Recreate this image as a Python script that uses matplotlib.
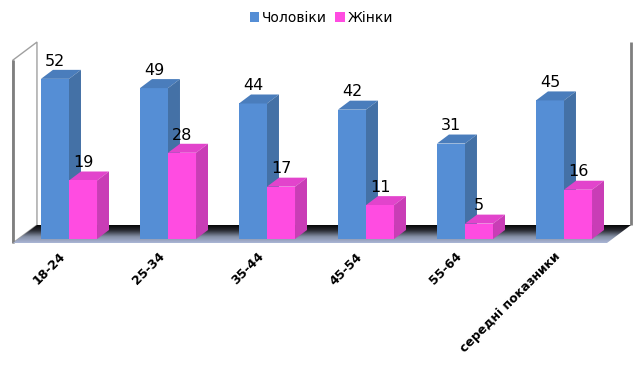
import matplotlib
matplotlib.use("Agg")
import matplotlib.pyplot as plt
from matplotlib.patches import Polygon
from matplotlib.colors import LinearSegmentedColormap
import numpy as np

categories = ["18-24", "25-34", "35-44", "45-54", "55-64", "середні показники"]
men = [52, 49, 44, 42, 31, 45]
women = [19, 28, 17, 11, 5, 16]
series_names = ["Чоловіки", "Жінки"]

BLUE = ("#558ed5", "#4a7dbc", "#4471a6")   # front, top, side
PINK = ("#ff4ce1", "#e244cc", "#c93db6")

BAR_W = 0.283
DX, DY = 0.121, 2.92          # bar depth offset (x units, value units)
FDX, FDY = 0.2424, 5.85       # floor / wall depth

fig = plt.figure(figsize=(6.43, 3.69), dpi=100)
ax = fig.add_axes([0, 0, 1, 1])
ax.set_xlim(-0.697, 5.798)
ax.set_ylim(-42.2, 77.6)
ax.axis("off")

n = len(categories)
x = np.arange(n)
x0, x1 = -0.566, n - 0.566   # floor front edge
fz = -1.3                    # floor front height
wall_top = 58.1

# left side wall
wall = Polygon([(x0, fz), (x0 + FDX, fz + FDY), (x0 + FDX, wall_top + FDY), (x0, wall_top)],
               closed=True, facecolor="white", edgecolor="#a0a0a0", lw=1.0, zorder=0.5)
ax.add_patch(wall)
ax.plot([x0, x0], [fz, wall_top], color="#7f7f7f", lw=2, zorder=0.6, solid_capstyle="butt")
# right edge of back wall
ax.plot([x1 + FDX, x1 + FDX], [fz + FDY, wall_top + FDY], color="#7f7f7f", lw=2, zorder=0.6,
        solid_capstyle="butt")

# floor with gradient
floor = Polygon([(x0, fz), (x1, fz), (x1 + FDX, fz + FDY), (x0 + FDX, fz + FDY)],
                closed=True, facecolor="none", edgecolor="none")
ax.add_patch(floor)
cmap = LinearSegmentedColormap.from_list("floor", ["#aab6d6", "#8590a6", "#2a2c33", "#000000"])
grad = np.linspace(0, 1, 64).reshape(-1, 1)
im = ax.imshow(grad, extent=(x0, x1 + FDX, fz, fz + FDY), origin="lower", cmap=cmap,
               aspect="auto", zorder=1, interpolation="bilinear")
im.set_clip_path(floor)
ax.set_xlim(-0.697, 5.798)
ax.set_ylim(-42.2, 77.6)


def bar3d(left, value, colors, z):
    front, top, side = colors
    ax.add_patch(Polygon([(left, value), (left + BAR_W, value), (left + BAR_W + DX, value + DY),
                          (left + DX, value + DY)], closed=True, facecolor=top, edgecolor="none",
                         zorder=z))
    ax.add_patch(Polygon([(left + BAR_W, 0), (left + BAR_W + DX, DY), (left + BAR_W + DX, value + DY),
                          (left + BAR_W, value)], closed=True, facecolor=side, edgecolor="none",
                         zorder=z))


bars_m = ax.bar(x - BAR_W, men, width=BAR_W, align="edge", color=BLUE[0], zorder=3,
                label=series_names[0])
bars_w = ax.bar(x, women, width=BAR_W, align="edge", color=PINK[0], zorder=4.1,
                label=series_names[1])
for i in range(n):
    bar3d(x[i] - BAR_W, men[i], BLUE, 3)
    bar3d(x[i], women[i], PINK, 4)
    ax.text(x[i] - BAR_W / 2, men[i] + 4.3, str(men[i]), ha="center", va="baseline",
            fontsize=11.5, zorder=6)
    ax.text(x[i] + BAR_W / 2, women[i] + 4.3, str(women[i]), ha="center", va="baseline",
            fontsize=11.5, zorder=6)
    ax.text(x[i] - 0.1, -3.6, categories[i], rotation=45, rotation_mode="anchor",
            ha="right", va="top", fontsize=9, fontweight="bold")

ax.legend(handles=[bars_m, bars_w], loc="upper center", bbox_to_anchor=(0.5, 0.985), ncol=2,
          frameon=False, fontsize=10, handlelength=0.7, handleheight=0.7, handletextpad=0.2,
          columnspacing=0.6, borderaxespad=0)

fig.savefig("out.png", dpi=100)
